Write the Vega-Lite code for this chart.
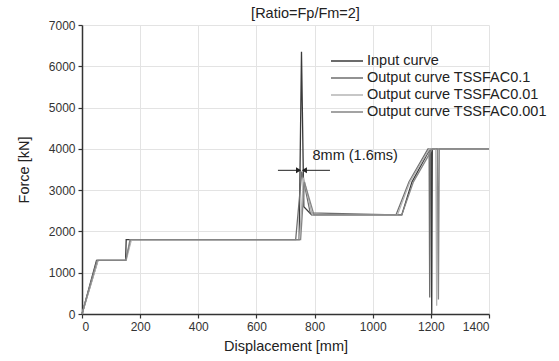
{
  "$schema": "https://vega.github.io/schema/vega-lite/v6.json",
  "width": 407,
  "height": 289,
  "autosize": "none",
  "padding": {"left": 82, "top": 25, "right": 70, "bottom": 47},
  "background": "white",
  "config": {
    "font": "Liberation Sans",
    "view": {"stroke": null}
  },
  "title": {"text": "[Ratio=Fp/Fm=2]", "fontSize": 14.5, "fontWeight": "normal", "color": "#222", "dx": 20, "offset": -2},
  "datasets": {
    "curves": [
      {"s": "Input curve", "i": 1, "X": 0, "F": 0},
      {"s": "Input curve", "i": 2, "X": 50, "F": 1300},
      {"s": "Input curve", "i": 3, "X": 150, "F": 1300},
      {"s": "Input curve", "i": 4, "X": 152, "F": 1800},
      {"s": "Input curve", "i": 5, "X": 747, "F": 1800},
      {"s": "Input curve", "i": 6, "X": 755, "F": 6350},
      {"s": "Input curve", "i": 7, "X": 763, "F": 2600},
      {"s": "Input curve", "i": 8, "X": 790, "F": 2400},
      {"s": "Input curve", "i": 9, "X": 1100, "F": 2400},
      {"s": "Input curve", "i": 10, "X": 1135, "F": 3200},
      {"s": "Input curve", "i": 11, "X": 1197, "F": 4000},
      {"s": "Input curve", "i": 12, "X": 1201, "F": 4000},
      {"s": "Input curve", "i": 13, "X": 1203, "F": 0},
      {"s": "Input curve", "i": 14, "X": 1205, "F": 4000},
      {"s": "Input curve", "i": 15, "X": 1400, "F": 4000},

      {"s": "Output curve TSSFAC0.1", "i": 1, "X": 0, "F": 0},
      {"s": "Output curve TSSFAC0.1", "i": 2, "X": 55, "F": 1300},
      {"s": "Output curve TSSFAC0.1", "i": 3, "X": 150, "F": 1300},
      {"s": "Output curve TSSFAC0.1", "i": 4, "X": 168, "F": 1800},
      {"s": "Output curve TSSFAC0.1", "i": 5, "X": 735, "F": 1800},
      {"s": "Output curve TSSFAC0.1", "i": 6, "X": 756, "F": 3450},
      {"s": "Output curve TSSFAC0.1", "i": 7, "X": 785, "F": 2450},
      {"s": "Output curve TSSFAC0.1", "i": 8, "X": 1080, "F": 2400},
      {"s": "Output curve TSSFAC0.1", "i": 9, "X": 1125, "F": 3200},
      {"s": "Output curve TSSFAC0.1", "i": 10, "X": 1190, "F": 4000},
      {"s": "Output curve TSSFAC0.1", "i": 11, "X": 1194, "F": 4000},
      {"s": "Output curve TSSFAC0.1", "i": 12, "X": 1196, "F": 400},
      {"s": "Output curve TSSFAC0.1", "i": 13, "X": 1199, "F": 4000},
      {"s": "Output curve TSSFAC0.1", "i": 14, "X": 1400, "F": 4000},

      {"s": "Output curve TSSFAC0.01", "i": 1, "X": 0, "F": 0},
      {"s": "Output curve TSSFAC0.01", "i": 2, "X": 55, "F": 1300},
      {"s": "Output curve TSSFAC0.01", "i": 3, "X": 152, "F": 1300},
      {"s": "Output curve TSSFAC0.01", "i": 4, "X": 170, "F": 1800},
      {"s": "Output curve TSSFAC0.01", "i": 5, "X": 748, "F": 1800},
      {"s": "Output curve TSSFAC0.01", "i": 6, "X": 762, "F": 3300},
      {"s": "Output curve TSSFAC0.01", "i": 7, "X": 792, "F": 2400},
      {"s": "Output curve TSSFAC0.01", "i": 8, "X": 1085, "F": 2400},
      {"s": "Output curve TSSFAC0.01", "i": 9, "X": 1128, "F": 3200},
      {"s": "Output curve TSSFAC0.01", "i": 10, "X": 1195, "F": 4000},
      {"s": "Output curve TSSFAC0.01", "i": 11, "X": 1217, "F": 4000},
      {"s": "Output curve TSSFAC0.01", "i": 12, "X": 1220, "F": 200},
      {"s": "Output curve TSSFAC0.01", "i": 13, "X": 1223, "F": 4000},
      {"s": "Output curve TSSFAC0.01", "i": 14, "X": 1400, "F": 4000},

      {"s": "Output curve TSSFAC0.001", "i": 1, "X": 0, "F": 0},
      {"s": "Output curve TSSFAC0.001", "i": 2, "X": 52, "F": 1300},
      {"s": "Output curve TSSFAC0.001", "i": 3, "X": 151, "F": 1300},
      {"s": "Output curve TSSFAC0.001", "i": 4, "X": 165, "F": 1800},
      {"s": "Output curve TSSFAC0.001", "i": 5, "X": 752, "F": 1800},
      {"s": "Output curve TSSFAC0.001", "i": 6, "X": 765, "F": 3200},
      {"s": "Output curve TSSFAC0.001", "i": 7, "X": 798, "F": 2400},
      {"s": "Output curve TSSFAC0.001", "i": 8, "X": 1100, "F": 2400},
      {"s": "Output curve TSSFAC0.001", "i": 9, "X": 1140, "F": 3200},
      {"s": "Output curve TSSFAC0.001", "i": 10, "X": 1205, "F": 4000},
      {"s": "Output curve TSSFAC0.001", "i": 11, "X": 1223, "F": 4000},
      {"s": "Output curve TSSFAC0.001", "i": 12, "X": 1226, "F": 350},
      {"s": "Output curve TSSFAC0.001", "i": 13, "X": 1229, "F": 4000},
      {"s": "Output curve TSSFAC0.001", "i": 14, "X": 1400, "F": 4000}
    ],
    "arrows": [
      {"x1": 674, "x2": 745, "F": 3480, "head": 745, "shape": "triangle-right"},
      {"x1": 765, "x2": 853, "F": 3480, "head": 765, "shape": "triangle-left"}
    ],
    "notes": [
      {"X": 793, "F": 3830, "label": "8mm (1.6ms)"}
    ]
  },
  "layer": [
    {
      "data": {"name": "curves"},
      "mark": {"type": "line", "strokeWidth": 1.3},
      "encoding": {
        "x": {
          "field": "X", "type": "quantitative",
          "scale": {"domain": [0, 1400], "nice": false, "zero": false},
          "axis": {
            "values": [0,100,200,300,400,500,600,700,800,900,1000,1100,1200,1300,1400],
            "labelExpr": "datum.value % 200 === 0 ? datum.label : ''",
            "format": "d",
            "title": "Displacement [mm]",
            "titleFontSize": 14.5, "titleFontWeight": "normal", "titleColor": "#222", "titlePadding": 7,
            "labelFontSize": 12, "labelColor": "#333", "labelPadding": 3,
            "grid": true, "gridColor": "#e3e3e3", "gridWidth": 1,
            "domainColor": "#333", "domainWidth": 1.5,
            "tickColor": "#333", "tickSize": 4, "tickWidth": 1.2
          }
        },
        "y": {
          "field": "F", "type": "quantitative",
          "scale": {"domain": [0, 7000], "nice": false},
          "axis": {
            "values": [0,500,1000,1500,2000,2500,3000,3500,4000,4500,5000,5500,6000,6500,7000],
            "labelExpr": "datum.value % 1000 === 0 ? datum.label : ''",
            "format": "d",
            "title": "Force [kN]",
            "titleFontSize": 14.5, "titleFontWeight": "normal", "titleColor": "#222", "titlePadding": 17,
            "labelFontSize": 12, "labelColor": "#333", "labelPadding": 3,
            "grid": true, "gridColor": "#e3e3e3", "gridWidth": 1,
            "domainColor": "#333", "domainWidth": 1.5,
            "tickColor": "#333", "tickSize": 4, "tickWidth": 1.2
          }
        },
        "order": {"field": "i", "type": "quantitative"},
        "color": {
          "field": "s", "type": "nominal",
          "scale": {
            "domain": ["Input curve", "Output curve TSSFAC0.1", "Output curve TSSFAC0.01", "Output curve TSSFAC0.001"],
            "range": ["#3a3a3a", "#6e6e6e", "#b4b4b4", "#858585"]
          },
          "legend": {
            "title": null,
            "orient": "none",
            "legendX": 256,
            "legendY": 27,
            "symbolType": "M-2,0H2",
            "symbolSize": 256,
            "symbolStrokeWidth": 1.5,
            "symbolFillColor": "transparent",
            "labelFontSize": 14.5,
            "labelColor": "#222",
            "labelLimit": 0,
            "labelOffset": 11,
            "rowPadding": 1
          }
        }
      }
    },
    {
      "data": {"name": "arrows"},
      "mark": {"type": "rule", "color": "#222", "strokeWidth": 1},
      "encoding": {
        "x": {"field": "x1", "type": "quantitative"},
        "x2": {"field": "x2"},
        "y": {"field": "F", "type": "quantitative"}
      }
    },
    {
      "data": {"name": "arrows"},
      "mark": {"type": "point", "filled": true, "color": "#222", "size": 35, "opacity": 1},
      "encoding": {
        "x": {"field": "head", "type": "quantitative"},
        "y": {"field": "F", "type": "quantitative"},
        "shape": {"field": "shape", "type": "nominal", "scale": null}
      }
    },
    {
      "data": {"name": "notes"},
      "mark": {"type": "text", "align": "left", "baseline": "middle", "fontSize": 14.5, "color": "#222"},
      "encoding": {
        "x": {"field": "X", "type": "quantitative"},
        "y": {"field": "F", "type": "quantitative"},
        "text": {"field": "label"}
      }
    }
  ]
}
